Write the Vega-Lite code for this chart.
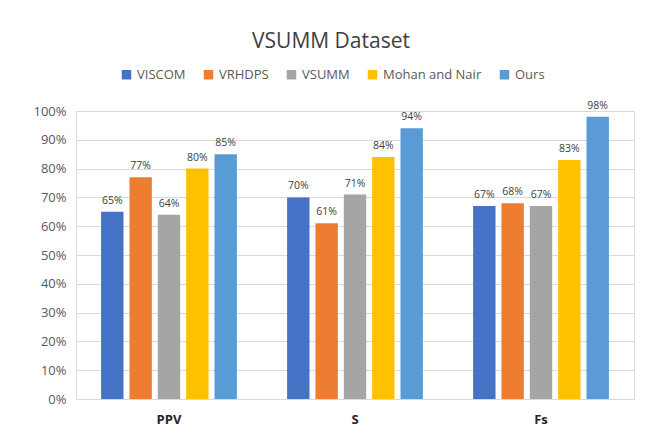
{
  "$schema": "https://vega.github.io/schema/vega-lite/v6.json",
  "autosize": {"type": "none"},
  "width": 558,
  "height": 288,
  "padding": {"left": 76, "top": 111, "right": 22, "bottom": 42},
  "background": "white",
  "title": {"text": "VSUMM Dataset", "fontSize": 21, "font": "Open Sans", "fontWeight": "normal", "color": "#404040", "anchor": "middle", "dx": -24, "offset": 16},
  "data": {"values": [
    {"metric": "PPV", "method": "VISCOM", "value": 0.65},
    {"metric": "PPV", "method": "VRHDPS", "value": 0.77},
    {"metric": "PPV", "method": "VSUMM", "value": 0.64},
    {"metric": "PPV", "method": "Mohan and Nair", "value": 0.80},
    {"metric": "PPV", "method": "Ours", "value": 0.85},
    {"metric": "S", "method": "VISCOM", "value": 0.70},
    {"metric": "S", "method": "VRHDPS", "value": 0.61},
    {"metric": "S", "method": "VSUMM", "value": 0.71},
    {"metric": "S", "method": "Mohan and Nair", "value": 0.84},
    {"metric": "S", "method": "Ours", "value": 0.94},
    {"metric": "Fs", "method": "VISCOM", "value": 0.67},
    {"metric": "Fs", "method": "VRHDPS", "value": 0.68},
    {"metric": "Fs", "method": "VSUMM", "value": 0.67},
    {"metric": "Fs", "method": "Mohan and Nair", "value": 0.83},
    {"metric": "Fs", "method": "Ours", "value": 0.98}
  ]},
  "encoding": {
    "x": {"field": "metric", "type": "nominal", "sort": ["PPV", "S", "Fs"],
      "scale": {"paddingInner": 0.27, "paddingOuter": 0.135},
      "axis": {"title": null, "labelAngle": 0, "labelFontWeight": "bold", "labelFontSize": 13, "labelFont": "Open Sans", "labelColor": "#262626", "ticks": false, "domainColor": "#d9d9d9", "labelPadding": 14, "grid": false}},
    "xOffset": {"field": "method", "type": "nominal", "sort": ["VISCOM", "VRHDPS", "VSUMM", "Mohan and Nair", "Ours"],
      "scale": {"paddingInner": 0.21, "paddingOuter": 0}},
    "y": {"field": "value", "type": "quantitative",
      "scale": {"domain": [0, 1], "nice": false},
      "axis": {"title": null, "format": ".0%", "values": [0,0.1,0.2,0.3,0.4,0.5,0.6,0.7,0.8,0.9,1], "labelOverlap": false, "domain": false, "ticks": false, "gridColor": "#d9d9d9", "labelFontSize": 13, "labelFont": "Open Sans", "labelColor": "#595959", "labelPadding": 10}}
  },
  "layer": [
    {
      "mark": {"type": "bar"},
      "encoding": {
        "color": {"field": "method", "type": "nominal",
          "sort": ["VISCOM", "VRHDPS", "VSUMM", "Mohan and Nair", "Ours"],
          "scale": {"domain": ["VISCOM", "VRHDPS", "VSUMM", "Mohan and Nair", "Ours"], "range": ["#4472c4", "#ed7d31", "#a5a5a5", "#ffc000", "#5b9bd5"]},
          "legend": {"title": null, "orient": "none", "direction": "horizontal", "legendX": 44, "legendY": -43, "symbolType": "square", "symbolSize": 90, "labelFontSize": 13, "labelFont": "Open Sans", "labelColor": "#595959", "columnPadding": 16, "labelOffset": 4, "symbolStrokeWidth": 0}
        }
      }
    },
    {
      "mark": {"type": "text", "dy": -11, "fontSize": 10.5, "font": "Open Sans", "color": "#404040"},
      "encoding": {"text": {"field": "value", "type": "quantitative", "format": ".0%"}}
    }
  ]
}
